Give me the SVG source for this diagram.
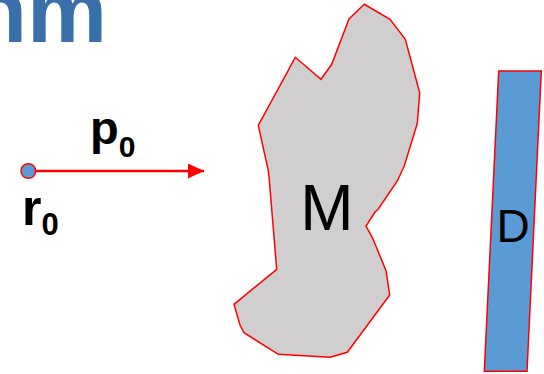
<svg xmlns="http://www.w3.org/2000/svg" width="544" height="374" viewBox="0 0 544 374">
<defs>
<style>
.lbl{font-family:"Liberation Sans",Arial,sans-serif;fill:#000}
.b{font-weight:bold}
.shape{stroke:#FF0000;stroke-width:1.5;stroke-linejoin:miter}
</style>
<marker id="ah" markerUnits="userSpaceOnUse" markerWidth="17" markerHeight="16" refX="16" refY="7.5" orient="auto">
<path d="M0,0 L16,7.5 L0,15 Z" fill="#FF0000"/>
</marker>
</defs>
<rect width="544" height="374" fill="#FFFFFF"/>
<g id="title">
<text x="107" y="42" text-anchor="end" font-family="Liberation Sans, Arial, sans-serif" font-weight="bold" font-size="90" fill="#3A70A9">hm</text>
</g>
<g id="connectors">
<line x1="34" y1="171" x2="204" y2="171" stroke="#FF0000" stroke-width="2.5" marker-end="url(#ah)"/>
</g>
<g id="r0">
<circle cx="28.3" cy="171" r="7.3" fill="#5B9BD5" stroke="#FF0000" stroke-width="1.5"/>
<text class="lbl b" x="22" y="225" font-size="50">r<tspan font-size="31" dy="10">0</tspan></text>
</g>
<g id="p0">
<text class="lbl b" x="90" y="144" font-size="47">p<tspan font-size="30" dy="13">0</tspan></text>
</g>
<g id="M">
<polygon class="shape" fill="#D0CECE" points="364.3,4.3 349,19 331.7,64.3 321,79.3 295.3,57.3 258.3,125.3 268.3,170.7 269.3,180 276.7,269.3 234,304.3 240,325 244,332.7 278.3,354.3 330,357.3 347.3,352.3 389.7,295 386,270.7 372.7,238.3 366,226 375,212 378.3,209 397.3,181 404.3,165.7 417.3,123.3 419.7,92.7 405.3,39.3 390,19.3"/>
<text class="lbl" x="327" y="230" font-size="64" text-anchor="middle">M</text>
</g>
<g id="D">
<polygon class="shape" fill="#5B9BD5" points="498.7,71 541.3,71 527,371.3 484.3,371.3"/>
<text class="lbl" x="513" y="242" font-size="46" text-anchor="middle">D</text>
</g>
</svg>
